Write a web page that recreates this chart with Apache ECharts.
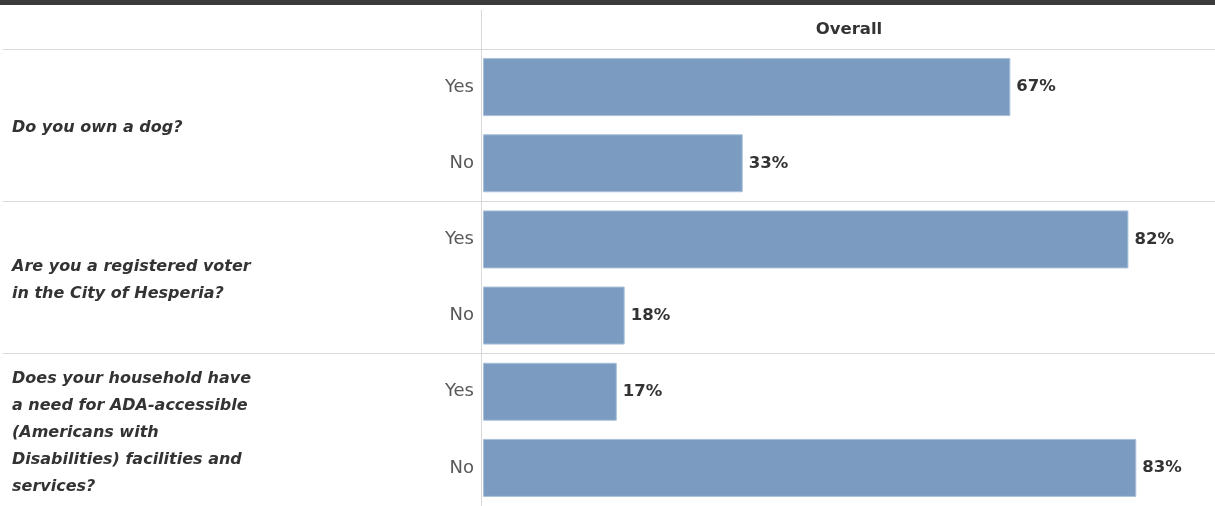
<!DOCTYPE html>
<html>
<head>
<meta charset="utf-8">
<script src="https://cdn.jsdelivr.net/npm/echarts@6/dist/echarts.min.js"></script>
<style>
  html, body { margin: 0; padding: 0; background: #ffffff; }
  #chart { width: 1215px; height: 506px; }
</style>
</head>
<body>
<div id="chart"></div>
<script>
  // survey questions, two answers each
  var questions = [
    'Do you own a dog?',
    'Are you a registered voter\nin the City of Hesperia?',
    'Does your household have\na need for ADA-accessible\n(Americans with\nDisabilities) facilities and\nservices?'
  ];
  var answers = ['Yes', 'No', 'Yes', 'No', 'Yes', 'No'];
  var overall = [67, 33, 82, 18, 17, 83];
  var header = 'Overall';

  var font = '"DejaVu Sans", sans-serif';
  var lineCol = '#d9d9d9';

  var chart = echarts.init(document.getElementById('chart'));
  chart.setOption({
    animation: false,
    backgroundColor: '#ffffff',
    grid: { left: 483, right: 0, top: 49, bottom: -2 },
    graphic: [
      { type: 'rect', shape: { x: 0, y: 0, width: 1215, height: 5 }, style: { fill: '#3b3b3b' } },
      { type: 'line', shape: { x1: 481.5, y1: 10, x2: 481.5, y2: 506 }, style: { stroke: lineCol, lineWidth: 1 } }
    ],
    xAxis: {
      type: 'value',
      position: 'top',
      min: 0,
      max: 93,
      name: header,
      nameLocation: 'middle',
      nameGap: 11,
      nameTextStyle: { fontFamily: font, fontWeight: 'bold', fontSize: 16.5, color: '#333333' },
      axisLine: { show: false },
      axisTick: { show: false },
      axisLabel: { show: false },
      splitLine: { show: false }
    },
    yAxis: [
      {
        type: 'category',
        data: answers,
        inverse: true,
        axisLine: { show: false },
        axisTick: { show: false },
        axisLabel: { margin: 9, fontFamily: font, fontSize: 18, color: '#595959' }
      },
      {
        type: 'category',
        data: questions,
        inverse: true,
        position: 'left',
        axisLine: { show: false },
        axisTick: { show: true, length: 480, lineStyle: { color: lineCol, width: 1 } },
        splitLine: { show: true, lineStyle: { color: lineCol, width: 1 } },
        axisLabel: {
          margin: 471,
          align: 'left',
          fontFamily: font,
          fontSize: 16,
          fontStyle: 'italic',
          fontWeight: 'bold',
          lineHeight: 26.8,
          color: '#333333',
          // small empty first line nudges the block down a little
          formatter: function (v) { return '{s|}\n' + v; },
          rich: { s: { lineHeight: 6, fontSize: 1 } }
        }
      }
    ],
    series: [
      {
        type: 'bar',
        yAxisIndex: 0,
        data: overall,
        barWidth: 58,
        itemStyle: { color: '#7b9cc0', borderColor: '#a9c0da', borderWidth: 1 },
        label: {
          show: true,
          position: 'right',
          distance: 6,
          formatter: '{c}%',
          fontFamily: font,
          fontWeight: 'bold',
          fontSize: 16.5,
          color: '#333333'
        }
      }
    ]
  });
</script>
</body>
</html>
